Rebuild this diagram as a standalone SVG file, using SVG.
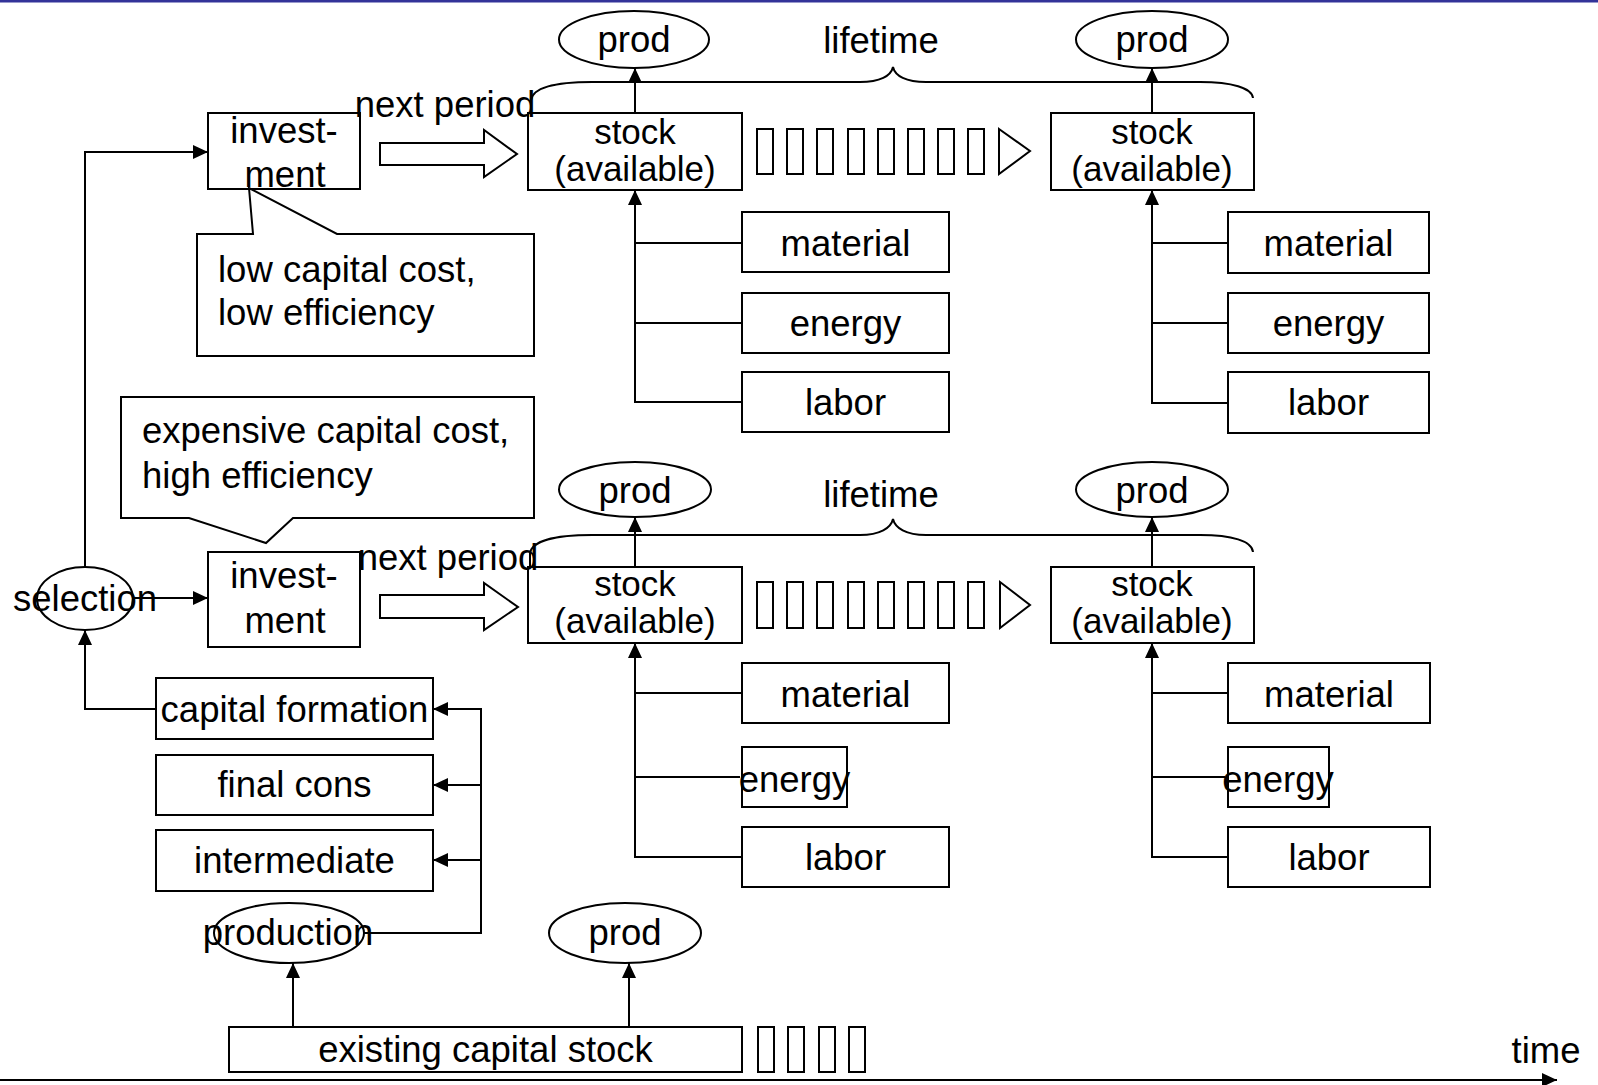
<svg xmlns="http://www.w3.org/2000/svg" width="1598" height="1085" viewBox="0 0 1598 1085">
<style>
.b{fill:none;stroke:#000;stroke-width:2}
.c{fill:none;stroke:#000;stroke-width:2}
.t{font-family:"Liberation Sans",Arial,sans-serif;font-size:36.5px;fill:#000;text-anchor:middle}
.s{font-family:"Liberation Sans",Arial,sans-serif;font-size:35px;fill:#000;text-anchor:middle}
.l{font-family:"Liberation Sans",Arial,sans-serif;font-size:36.5px;fill:#000}
</style>
<defs>
<marker id="ah" markerUnits="userSpaceOnUse" markerWidth="15" markerHeight="14" refX="15" refY="7" orient="auto">
<path d="M0,0 L15,7 L0,14 z" fill="#000"/>
</marker>
</defs>
<rect x="0" y="0" width="1598" height="1085" fill="#fff"/>
<rect x="0" y="0" width="1598" height="2.5" fill="#333399"/>

<g id="connectors">
<path class="c" d="M85,567 V152 H208" marker-end="url(#ah)"/>
<path class="c" d="M133,598 H208" marker-end="url(#ah)"/>
<path class="c" d="M156,709 H85 V630" marker-end="url(#ah)"/>
<path class="c" d="M364,933 H481 V709 H433" marker-end="url(#ah)"/>
<path class="c" d="M481,785 H433" marker-end="url(#ah)"/>
<path class="c" d="M481,860 H433" marker-end="url(#ah)"/>
<path class="c" d="M293,1027 V963" marker-end="url(#ah)"/>
<path class="c" d="M629,1027 V963" marker-end="url(#ah)"/>
<path class="c" d="M635,113 V68" marker-end="url(#ah)"/>
<path class="c" d="M1152,113 V68" marker-end="url(#ah)"/>
<path class="c" d="M635,567 V517" marker-end="url(#ah)"/>
<path class="c" d="M1152,567 V517" marker-end="url(#ah)"/>
<path class="c" d="M742,402 H635 V190" marker-end="url(#ah)"/>
<path class="c" d="M742,243 H635 M742,323 H635"/>
<path class="c" d="M1228,403 H1152 V190" marker-end="url(#ah)"/>
<path class="c" d="M1228,243 H1152 M1228,323 H1152"/>
<path class="c" d="M742,857 H635 V643" marker-end="url(#ah)"/>
<path class="c" d="M742,693 H635 M740,777 H635"/>
<path class="c" d="M1228,857 H1152 V643" marker-end="url(#ah)"/>
<path class="c" d="M1228,693 H1152 M1225,777 H1152"/>
<path class="c" d="M0,1080 H1557" marker-end="url(#ah)"/>
<path class="c" d="M531,113 L531,100 C533,88 555,82 592,82 L860,82 C880,82 891,76 893,67 C895,76 906,82 926,82 L1200,82 C1232,82 1252,88 1253,98"/>
<path class="c" d="M530,567 L530,553 C532,541 555,535 592,535 L860,535 C880,535 891,528 893,519 C895,528 906,535 926,535 L1200,535 C1232,535 1252,541 1253,552"/>
<polygon class="b" points="380,143 484,143 484,130 517,154 484,177 484,165 380,165"/>
<polygon class="b" points="380,595 484,595 484,583 518,607 484,630 484,618 380,618"/>
</g>

<g id="lifetime-markers">
<rect class="b" x="757" y="129" width="16" height="45"/>
<rect class="b" x="787" y="129" width="16" height="45"/>
<rect class="b" x="817" y="129" width="16" height="45"/>
<rect class="b" x="848" y="129" width="16" height="45"/>
<rect class="b" x="878" y="129" width="16" height="45"/>
<rect class="b" x="908" y="129" width="16" height="45"/>
<rect class="b" x="938" y="129" width="16" height="45"/>
<rect class="b" x="968" y="129" width="16" height="45"/>
<polygon class="b" points="999,129 1030,151 999,174"/>
<rect class="b" x="757" y="582" width="16" height="46"/>
<rect class="b" x="787" y="582" width="16" height="46"/>
<rect class="b" x="817" y="582" width="16" height="46"/>
<rect class="b" x="848" y="582" width="16" height="46"/>
<rect class="b" x="878" y="582" width="16" height="46"/>
<rect class="b" x="908" y="582" width="16" height="46"/>
<rect class="b" x="938" y="582" width="16" height="46"/>
<rect class="b" x="968" y="582" width="16" height="46"/>
<polygon class="b" points="1000,582 1030,605 1000,628"/>
<rect class="b" x="758" y="1027" width="16" height="45"/>
<rect class="b" x="788" y="1027" width="16" height="45"/>
<rect class="b" x="819" y="1027" width="16" height="45"/>
<rect class="b" x="849" y="1027" width="16" height="45"/>
</g>

<g id="labels">
<text class="t" x="445" y="117">next period</text>
<text class="t" x="448" y="570">next period</text>
<text class="t" x="881" y="53">lifetime</text>
<text class="t" x="881" y="507">lifetime</text>
<text class="t" x="1546" y="1063">time</text>
</g>

<g id="invest1">
<rect class="b" x="208" y="113" width="152" height="76"/>
<text class="t" x="284" y="143">invest-</text>
<text class="t" x="285" y="187">ment</text>
</g>
<g id="callout1">
<polygon class="b" points="197,234 253,234 249,188 337,234 534,234 534,356 197,356"/>
<text class="l" x="218" y="282">low capital cost,</text>
<text class="l" x="218" y="325">low efficiency</text>
</g>
<g id="callout2">
<polygon class="b" points="121,397 534,397 534,518 293,518 266,543 189,518 121,518"/>
<text class="l" x="142" y="443">expensive capital cost,</text>
<text class="l" x="142" y="488">high efficiency</text>
</g>
<g id="invest2">
<rect class="b" x="208" y="552" width="152" height="95"/>
<text class="t" x="284" y="588">invest-</text>
<text class="t" x="285" y="633">ment</text>
</g>
<g id="selection">
<ellipse class="b" cx="85" cy="598.5" rx="48" ry="31.5"/>
<text class="t" x="85" y="611">selection</text>
</g>

<g id="prod1">
<ellipse class="b" cx="634" cy="39.5" rx="75" ry="28.5"/>
<text class="t" x="634" y="52">prod</text>
</g>
<g id="prod2">
<ellipse class="b" cx="1152" cy="39.5" rx="76" ry="28.5"/>
<text class="t" x="1152" y="52">prod</text>
</g>
<g id="prod3">
<ellipse class="b" cx="635" cy="489.5" rx="76" ry="27.5"/>
<text class="t" x="635" y="503">prod</text>
</g>
<g id="prod4">
<ellipse class="b" cx="1152" cy="489.5" rx="76" ry="27.5"/>
<text class="t" x="1152" y="503">prod</text>
</g>

<g id="stock1">
<rect class="b" x="528" y="113" width="214" height="77"/>
<text class="s" x="635" y="144">stock</text>
<text class="s" x="635" y="181">(available)</text>
</g>
<g id="stock2">
<rect class="b" x="1051" y="113" width="203" height="77"/>
<text class="s" x="1152" y="144">stock</text>
<text class="s" x="1152" y="181">(available)</text>
</g>
<g id="stock3">
<rect class="b" x="528" y="567" width="214" height="76"/>
<text class="s" x="635" y="596">stock</text>
<text class="s" x="635" y="633">(available)</text>
</g>
<g id="stock4">
<rect class="b" x="1051" y="567" width="203" height="76"/>
<text class="s" x="1152" y="596">stock</text>
<text class="s" x="1152" y="633">(available)</text>
</g>

<g id="material1"><rect class="b" x="742" y="212" width="207" height="60"/><text class="t" x="845.5" y="256">material</text></g>
<g id="energy1"><rect class="b" x="742" y="293" width="207" height="60"/><text class="t" x="845.5" y="336">energy</text></g>
<g id="labor1"><rect class="b" x="742" y="372" width="207" height="60"/><text class="t" x="845.5" y="415">labor</text></g>
<g id="material2"><rect class="b" x="1228" y="212" width="201" height="61"/><text class="t" x="1328.5" y="256">material</text></g>
<g id="energy2"><rect class="b" x="1228" y="293" width="201" height="60"/><text class="t" x="1328.5" y="336">energy</text></g>
<g id="labor2"><rect class="b" x="1228" y="372" width="201" height="61"/><text class="t" x="1328.5" y="415">labor</text></g>
<g id="material3"><rect class="b" x="742" y="663" width="207" height="60"/><text class="t" x="845.5" y="707">material</text></g>
<g id="energy3"><rect class="b" x="742" y="747" width="105" height="60"/><text class="t" x="794.5" y="792">energy</text></g>
<g id="labor3"><rect class="b" x="742" y="827" width="207" height="60"/><text class="t" x="845.5" y="870">labor</text></g>
<g id="material4"><rect class="b" x="1228" y="663" width="202" height="60"/><text class="t" x="1329" y="707">material</text></g>
<g id="energy4"><rect class="b" x="1228" y="747" width="101" height="60"/><text class="t" x="1278" y="792">energy</text></g>
<g id="labor4"><rect class="b" x="1228" y="827" width="202" height="60"/><text class="t" x="1329" y="870">labor</text></g>

<g id="capital-formation"><rect class="b" x="156" y="678" width="277" height="61"/><text class="t" x="294.5" y="722">capital formation</text></g>
<g id="final-cons"><rect class="b" x="156" y="755" width="277" height="60"/><text class="t" x="294.5" y="797">final cons</text></g>
<g id="intermediate"><rect class="b" x="156" y="830" width="277" height="61"/><text class="t" x="294.5" y="873">intermediate</text></g>
<g id="production">
<ellipse class="b" cx="289" cy="933" rx="75" ry="30"/>
<text class="t" x="288" y="945">production</text>
</g>
<g id="prod5">
<ellipse class="b" cx="625" cy="933" rx="76" ry="30"/>
<text class="t" x="625" y="945">prod</text>
</g>
<g id="existing-stock">
<rect class="b" x="229" y="1027" width="513" height="45"/>
<text class="t" x="485.5" y="1062">existing capital stock</text>
</g>
</svg>
